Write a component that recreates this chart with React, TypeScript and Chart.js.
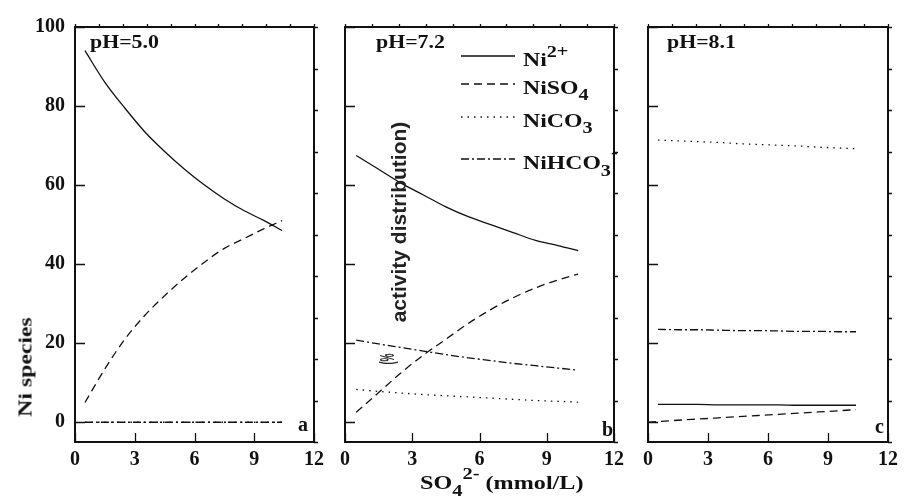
import React, { useEffect, useRef } from "react";
import { Chart, registerables } from "chart.js";

Chart.register(...registerables);

// ---------- data ----------
const xValues = [0.5, 1.5, 2.5, 3.5, 4.5, 5.5, 6.5, 7.5, 8.5, 9.5, 10.4];
const xValuesFromZero = [0, 1.5, 2.5, 3.5, 4.5, 5.5, 6.5, 7.5, 8.5, 9.5, 10.4];
const xTicks = [0, 3, 6, 9, 12];
const yTicks = [0, 20, 40, 60, 80, 100];
const seriesNames = ["Ni2+", "NiSO4", "NiCO3", "NiHCO3-"];
const panelLabels = ["pH=5.0", "pH=7.2", "pH=8.1"];
const panelLetters = ["a", "b", "c"];

// pH = 5.0
const ni2_pH50 = [94, 86, 79.5, 73.5, 68.5, 64, 60, 56.5, 53.5, 51, 48.5];
const niso4_pH50 = [5, 13.5, 21, 27, 32, 36.5, 40.5, 44, 46.5, 49, 51];
const nico3_pH50 = [0, 0, 0, 0, 0, 0, 0, 0, 0, 0, 0];
const nihco3_pH50 = [0, 0, 0, 0, 0, 0, 0, 0, 0, 0, 0];

// pH = 7.2
const ni2_pH72 = [67.5, 64, 60.5, 57.5, 54.5, 52, 50, 48, 46, 44.7, 43.4];
const niso4_pH72 = [2.5, 7.5, 12.5, 17, 21, 25, 28.5, 31.5, 34, 36, 37.5];
const nico3_pH72 = [8.3, 7.8, 7.4, 7.0, 6.7, 6.4, 6.1, 5.8, 5.5, 5.3, 5.1];
const nihco3_pH72 = [20.8, 19.8, 18.9, 18.0, 17.1, 16.3, 15.6, 14.9, 14.3, 13.7, 13.2];

// pH = 8.1
const ni2_pH81 = [4.5, 4.5, 4.5, 4.4, 4.4, 4.4, 4.4, 4.3, 4.3, 4.3, 4.3];
const niso4_pH81 = [0, 0.5, 0.8, 1.1, 1.4, 1.7, 2.0, 2.3, 2.6, 2.9, 3.2];
const nico3_pH81 = [71.4, 71.2, 71.0, 70.8, 70.5, 70.3, 70.1, 69.9, 69.6, 69.4, 69.2];
const nihco3_pH81 = [23.5, 23.4, 23.4, 23.3, 23.2, 23.2, 23.1, 23.0, 23.0, 22.9, 22.9];

// ---------- styling ----------
const INK = "#111";
const serif = "'Liberation Serif','Times New Roman',serif";
const sans = "'Liberation Sans','Arial',sans-serif";
const dashes: number[][] = [[], [8, 5], [1.5, 5], [8, 3, 2, 3]];

const framePlugin = {
  id: "frame",
  afterDatasetsDraw(chart: any, _args: any, opts: any) {
    const { ctx, chartArea: a, scales } = chart;
    const x = scales.x, y = scales.y, x2 = scales.x2, y2 = scales.y2;
    ctx.save();
    ctx.strokeStyle = INK;
    ctx.lineWidth = 1.3;
    ctx.setLineDash([]);
    ctx.beginPath();
    y.ticks.forEach((t: any) => {
      const py = Math.round(y.getPixelForValue(t.value)) + 0.5;
      ctx.moveTo(a.left, py);
      ctx.lineTo(a.left + 10, py);
    });
    x.ticks.forEach((t: any) => {
      const px = Math.round(x.getPixelForValue(t.value)) + 0.5;
      ctx.moveTo(px, a.bottom);
      ctx.lineTo(px, a.bottom - 9);
    });
    y2.ticks.forEach((t: any) => {
      const py = Math.round(y2.getPixelForValue(t.value)) + 0.5;
      ctx.moveTo(a.right, py);
      ctx.lineTo(a.right + 4, py);
    });
    x2.ticks.forEach((t: any) => {
      const px = Math.round(x2.getPixelForValue(t.value)) + 0.5;
      ctx.moveTo(px, a.top);
      ctx.lineTo(px, a.top - 3);
    });
    ctx.stroke();
    ctx.lineWidth = 2;
    ctx.strokeRect(a.left, a.top, a.right - a.left, a.bottom - a.top);

    const lg = opts && opts.legend;
    if (lg) {
      chart.data.datasets.forEach((ds: any, i: number) => {
        const py = a.top + lg.rows[i];
        ctx.beginPath();
        ctx.lineWidth = ds.borderWidth;
        ctx.setLineDash(ds.borderDash || []);
        ctx.moveTo(a.left + lg.x0, py);
        ctx.lineTo(a.left + lg.x1, py);
        ctx.stroke();
      });
    }
    ctx.restore();
  },
};

function buildConfig(series: number[][], xs: number[][], axisLeft: number, padRight: number, showY: boolean, legend?: any) {
  const tickFont = { family: serif, weight: "bold" as const, size: 20 };
  return {
    type: "line" as const,
    data: {
      datasets: series.map((vals, i) => ({
        label: seriesNames[i],
        data: xs[i].map((x, k) => ({ x, y: vals[k] })),
        xAxisID: "x",
        yAxisID: "y",
        borderColor: INK,
        borderWidth: 1.3,
        borderDash: dashes[i],
        pointRadius: 0,
        fill: false,
        cubicInterpolationMode: "monotone" as const,
      })),
    },
    options: {
      responsive: false,
      animation: false as const,
      devicePixelRatio: 1,
      layout: { padding: { left: 0, right: padRight, top: 27, bottom: 0 } },
      plugins: {
        legend: { display: false },
        tooltip: { enabled: false },
        frame: { legend },
      },
      scales: {
        x: {
          type: "linear" as const,
          position: "bottom" as const,
          min: xTicks[0],
          max: xTicks[xTicks.length - 1],
          ticks: { stepSize: 3, padding: 6, font: tickFont, color: INK, maxRotation: 0 },
          grid: { display: false, drawTicks: false },
          border: { display: false },
          afterFit: (s: any) => { s.height = 58; },
        },
        y: {
          type: "linear" as const,
          position: "left" as const,
          min: -5,
          max: yTicks[yTicks.length - 1],
          ticks: { stepSize: 20, includeBounds: false, display: showY, padding: 10, font: tickFont, color: INK },
          grid: { display: false, drawTicks: false },
          border: { display: false },
          afterFit: (s: any) => { s.width = axisLeft; },
        },
        x2: {
          type: "linear" as const,
          position: "top" as const,
          min: 0,
          max: 10,
          ticks: { stepSize: 1, display: false },
          grid: { display: false, drawTicks: false },
          border: { display: false },
          afterFit: (s: any) => { s.height = 0; },
        },
        y2: {
          type: "linear" as const,
          position: "right" as const,
          min: 0,
          max: 10,
          ticks: { stepSize: 1, display: false },
          grid: { display: false, drawTicks: false },
          border: { display: false },
          afterFit: (s: any) => { s.width = 0; },
        },
      },
    },
    plugins: [framePlugin],
  };
}

const textBase: React.CSSProperties = {
  position: "absolute",
  fontFamily: serif,
  fontWeight: 700,
  lineHeight: 1,
  whiteSpace: "nowrap",
  color: INK,
  transformOrigin: "left top",
};

function Txt(props: { left: number; top: number; size?: number; sx?: number; children: React.ReactNode }) {
  const { left, top, size = 19, sx = 1.2, children } = props;
  return (
    <div style={{ ...textBase, left, top, fontSize: size, transform: `scaleX(${sx})` }}>{children}</div>
  );
}

const Sub = ({ c, dy = 6 }: { c: string; dy?: number }) => (
  <span style={{ position: "relative", top: dy, fontSize: "0.85em" }}>{c}</span>
);
const Sup = ({ c, dy = -10 }: { c: string; dy?: number }) => (
  <span style={{ position: "relative", top: dy, fontSize: "0.85em" }}>{c}</span>
);

export default function App() {
  const r1 = useRef<HTMLCanvasElement>(null);
  const r2 = useRef<HTMLCanvasElement>(null);
  const r3 = useRef<HTMLCanvasElement>(null);

  useEffect(() => {
    const std = [xValues, xValues, xValues, xValues];
    const c1 = new Chart(r1.current as HTMLCanvasElement, buildConfig(
      [ni2_pH50, niso4_pH50, nico3_pH50, nihco3_pH50], std, 75, 12, true) as any);
    const c2 = new Chart(r2.current as HTMLCanvasElement, buildConfig(
      [ni2_pH72, niso4_pH72, nico3_pH72, nihco3_pH72], std, 15, 11, false,
      { x0: 116, x1: 170, rows: [29, 57, 90, 132] }) as any);
    const c3 = new Chart(r3.current as HTMLCanvasElement, buildConfig(
      [ni2_pH81, niso4_pH81, nico3_pH81, nihco3_pH81],
      [xValues, xValuesFromZero, xValues, xValues], 18, 11, false) as any);
    return () => { c1.destroy(); c2.destroy(); c3.destroy(); };
  }, []);

  const cv = (left: number): React.CSSProperties => ({ position: "absolute", left, top: 0, display: "block" });

  return (
    <div style={{ position: "absolute", left: 0, top: 0, width: 904, height: 500, background: "#fff", overflow: "hidden" }}>
      <canvas ref={r1} width={330} height={500} style={cv(0)} />
      <canvas ref={r2} width={300} height={500} style={cv(330)} />
      <canvas ref={r3} width={274} height={500} style={cv(630)} />

      {/* panel titles */}
      <Txt left={90} top={32} sx={1.15}>{panelLabels[0]}</Txt>
      <Txt left={376} top={32} sx={1.15}>{panelLabels[1]}</Txt>
      <Txt left={667} top={32} sx={1.15}>{panelLabels[2]}</Txt>

      {/* panel letters */}
      <Txt left={298} top={414} size={20} sx={1}>{panelLetters[0]}</Txt>
      <Txt left={602} top={419} size={20} sx={1}>{panelLetters[1]}</Txt>
      <Txt left={875} top={416} size={20} sx={1}>{panelLetters[2]}</Txt>

      {/* legend text */}
      <Txt left={523} top={50} sx={1.25}>Ni<Sup c="2+" dy={-9} /></Txt>
      <Txt left={523} top={78} sx={1.25}>NiSO<Sub c="4" /></Txt>
      <Txt left={523} top={111} sx={1.25}>NiCO<Sub c="3" /></Txt>
      <Txt left={523} top={153} sx={1.25}>NiHCO<Sub c="3" dy={7} /><Sup c="-" dy={-11} /></Txt>

      {/* axis titles */}
      <Txt left={420} top={473} sx={1.27}>SO<Sub c="4" dy={7} /><Sup c="2-" dy={-10} /> (mmol/L)</Txt>
      <div style={{ ...textBase, left: 25, top: 367, fontSize: 19, transformOrigin: "center center",
        transform: "translate(-50%, -50%) rotate(-90deg) scaleX(1.25)" }}>Ni species</div>

      {/* stray label from the original figure */}
      <div style={{ ...textBase, fontFamily: sans, left: 398, top: 222, fontSize: 21, color: "#222",
        transformOrigin: "center center", transform: "translate(-50%, -50%) rotate(-90deg)" }}>activity distribution)</div>
      <div style={{ ...textBase, fontFamily: sans, left: 387, top: 359, fontSize: 20, color: "#222",
        transformOrigin: "center center", transform: "translate(-50%, -50%) rotate(-90deg) scaleX(0.45)" }}>(%</div>
    </div>
  );
}
